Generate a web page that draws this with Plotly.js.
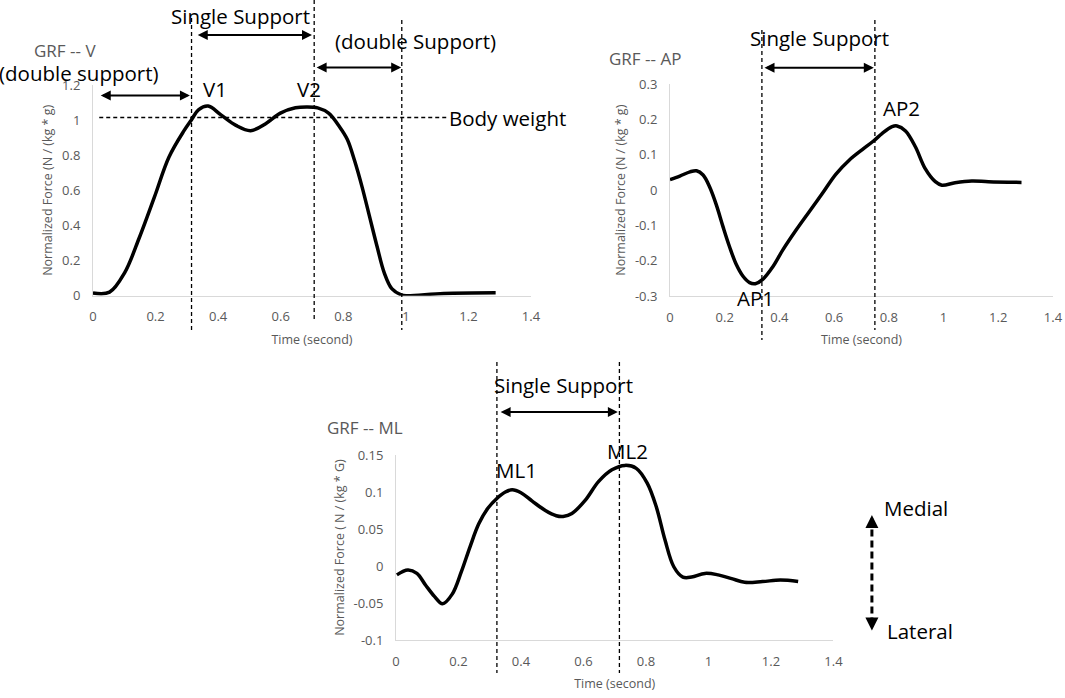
<!DOCTYPE html>
<html>
<head>
<meta charset="utf-8">
<script src="https://cdn.plot.ly/plotly-3.0.1.min.js"></script>
<style>html,body{margin:0;padding:0;background:#fff;}#chart{width:1065px;height:698px;}</style>
</head>
<body>
<div id="chart"></div>
<script>
// ---------------- DATA ----------------
const vTime  = [0, 0.053, 0.101, 0.148, 0.196, 0.243, 0.291, 0.314, 0.338, 0.368, 0.409, 0.457, 0.504, 0.552, 0.599, 0.647, 0.682, 0.718, 0.753, 0.789, 0.813, 0.836, 0.860, 0.884, 0.908, 0.931, 0.955, 0.985, 1.002, 1.121, 1.287];
const vForce = [0.015, 0.02, 0.13, 0.33, 0.56, 0.79, 0.94, 1.00, 1.06, 1.08, 1.03, 0.97, 0.94, 0.98, 1.04, 1.07, 1.075, 1.07, 1.04, 0.96, 0.89, 0.77, 0.62, 0.45, 0.28, 0.13, 0.04, 0.005, 0.0, 0.013, 0.017];

const apTime  = [0, 0.036, 0.073, 0.097, 0.121, 0.145, 0.170, 0.194, 0.218, 0.242, 0.267, 0.291, 0.312, 0.339, 0.376, 0.412, 0.461, 0.509, 0.558, 0.606, 0.655, 0.703, 0.745, 0.776, 0.812, 0.830, 0.861, 0.897, 0.933, 0.970, 0.994, 1.042, 1.103, 1.164, 1.285];
const apForce = [0.030, 0.040, 0.052, 0.055, 0.043, 0.009, -0.043, -0.104, -0.161, -0.210, -0.244, -0.262, -0.265, -0.253, -0.217, -0.170, -0.113, -0.061, -0.008, 0.045, 0.085, 0.115, 0.140, 0.161, 0.180, 0.182, 0.168, 0.123, 0.061, 0.024, 0.014, 0.021, 0.026, 0.024, 0.022];

const mlTime  = [0.003, 0.038, 0.067, 0.095, 0.123, 0.149, 0.180, 0.209, 0.237, 0.265, 0.294, 0.322, 0.350, 0.372, 0.400, 0.435, 0.478, 0.513, 0.535, 0.563, 0.606, 0.648, 0.691, 0.733, 0.769, 0.804, 0.833, 0.861, 0.889, 0.918, 0.946, 0.989, 1.031, 1.074, 1.116, 1.173, 1.230, 1.287];
const mlForce = [-0.012, -0.0055, -0.010, -0.026, -0.041, -0.051, -0.038, -0.008, 0.026, 0.057, 0.078, 0.091, 0.100, 0.103, 0.099, 0.088, 0.075, 0.068, 0.067, 0.071, 0.089, 0.114, 0.130, 0.136, 0.132, 0.112, 0.080, 0.035, -0.001, -0.015, -0.015, -0.010, -0.012, -0.017, -0.022, -0.021, -0.019, -0.021];

// phase boundaries (seconds)
const vPhase  = [0.315, 0.707, 0.987];
const apPhase = [0.336, 0.749];
const mlPhase = [0.323, 0.715];
const bodyWeight = 1.015;

// tick labels
const xTickVals = [0, 0.2, 0.4, 0.6, 0.8, 1, 1.2, 1.4];
const xTickText = ['0', '0.2', '0.4', '0.6', '0.8', '1', '1.2', '1.4'];
const vTickVals = [0, 0.2, 0.4, 0.6, 0.8, 1, 1.2];
const vTickText = ['0', '0.2', '0.4', '0.6', '0.8', '1', '1.2'];
const apTickVals = [-0.3, -0.2, -0.1, 0, 0.1, 0.2, 0.3];
const apTickText = ['-0.3', '-0.2', '-0.1', '0', '0.1', '0.2', '0.3'];
const mlTickVals = [-0.1, -0.05, 0, 0.05, 0.1, 0.15];
const mlTickText = ['-0.1', '-0.05', '0', '0.05', '0.1', '0.15'];

// ---------------- LAYOUT GEOMETRY ----------------
const D1 = {x: [0.0873, 0.4986], y: [0.5764, 0.8782], xr: [0, 1.4], yr: [0, 1.2]};
const D2 = {x: [0.6291, 0.9887], y: [0.5759, 0.8792], xr: [0, 1.4], yr: [-0.3, 0.3]};
const D3 = {x: [0.3718, 0.7826], y: [0.0831, 0.3481], xr: [0, 1.4], yr: [-0.1, 0.15]};
function px(D, t) { return D.x[0] + (t - D.xr[0]) / (D.xr[1] - D.xr[0]) * (D.x[1] - D.x[0]); }
function py(D, v) { return D.y[0] + (v - D.yr[0]) / (D.yr[1] - D.yr[0]) * (D.y[1] - D.y[0]); }

const FONT = '"Open Sans", "Liberation Sans", sans-serif';
const GREY = '#595959';
const AXL = '#d9d9d9';

function xAxis(D, anchor) {
  return {domain: D.x, range: D.xr, anchor: anchor, tickmode: 'array', tickvals: xTickVals, ticktext: xTickText,
    showgrid: false, zeroline: false, showline: true, linecolor: AXL, linewidth: 1, ticks: '',
    ticklabelstandoff: 9, tickfont: {family: FONT, size: 13, color: GREY},
    title: {text: 'Time (second)', font: {family: FONT, size: 12.5, color: GREY}, standoff: 10}, fixedrange: true};
}
function yAxis(D, anchor, vals, text, title) {
  return {domain: D.y, range: D.yr, anchor: anchor, tickmode: 'array', tickvals: vals, ticktext: text,
    showgrid: false, zeroline: false, showline: true, linecolor: AXL, linewidth: 1, ticks: '',
    ticklabelstandoff: 9, tickfont: {family: FONT, size: 13, color: GREY},
    title: {text: title, font: {family: FONT, size: 12.5, color: GREY}, standoff: 6}, fixedrange: true};
}

const curve = {mode: 'lines', line: {color: '#000', width: 3.5, shape: 'spline', smoothing: 1}, hoverinfo: 'skip'};
const traces = [
  Object.assign({x: vTime, y: vForce, xaxis: 'x', yaxis: 'y'}, curve),
  Object.assign({x: apTime, y: apForce, xaxis: 'x2', yaxis: 'y2'}, curve),
  Object.assign({x: mlTime, y: mlForce, xaxis: 'x3', yaxis: 'y3'}, curve)
];

const dash = {color: '#000', width: 1.3, dash: '4px,3px'};
function vline(xref, t, y0px, y1px) {
  return {type: 'line', xref: xref, yref: 'paper', x0: t, x1: t, y0: 1 - y0px / 698, y1: 1 - y1px / 698, line: dash};
}
const shapes = [
  vline('x', vPhase[0], 18, 330), vline('x', vPhase[1], 0, 320), vline('x', vPhase[2], 20, 330),
  vline('x2', apPhase[0], 30, 340), vline('x2', apPhase[1], 20, 330),
  vline('x3', mlPhase[0], 362, 673), vline('x3', mlPhase[1], 362, 673),
  {type: 'line', xref: 'x', yref: 'y', x0: 0.02, x1: 1.13, y0: bodyWeight, y1: bodyWeight, line: dash},
  {type: 'line', xref: 'paper', yref: 'paper', x0: px(D3, 1.523), x1: px(D3, 1.523), y0: py(D3, -0.079), y1: py(D3, 0.062),
   line: {color: '#000', width: 3, dash: '7px,4px'}}
];

function txt(text, x, y, opts) {
  return Object.assign({text: text, x: x, y: y, xref: 'paper', yref: 'paper', showarrow: false,
    xanchor: 'center', yanchor: 'middle', font: {family: FONT, size: 20.5, color: '#000'}}, opts || {});
}
function grey(text, x, y) {
  return txt(text, x, y, {font: {family: FONT, size: 17, color: GREY}});
}
function dbl(xref, t0, t1, yPaper) {
  return {xref: xref, axref: xref, x: t1, ax: t0, yref: 'paper', ayref: 'pixel', y: yPaper, ay: 0, text: '',
    showarrow: true, arrowside: 'end+start', arrowhead: 2, startarrowhead: 2, arrowsize: 1, startarrowsize: 1,
    arrowwidth: 2, arrowcolor: '#000', standoff: 0, startstandoff: 0};
}
function tip(x, y, ay) {
  return {xref: 'paper', yref: 'paper', x: x, y: y, ax: 0, ay: ay, text: '', showarrow: true,
    arrowhead: 2, arrowsize: 1, arrowwidth: 2.6, arrowcolor: '#000', standoff: 0};
}

const annotations = [
  // V plot
  txt('Single Support', px(D1, 0.47), 1, {yanchor: 'top'}),
  dbl('x', 0.33, 0.70, py(D1, 1.485)),
  txt('(double Support)', px(D1, 1.03), py(D1, 1.45)),
  dbl('x', 0.71, 0.985, py(D1, 1.30)),
  txt('(double support)', px(D1, -0.045), py(D1, 1.27)),
  grey('GRF -- V', px(D1, -0.09), py(D1, 1.395)),
  dbl('x', 0.02, 0.31, py(D1, 1.14)),
  txt('V1', px(D1, 0.39), py(D1, 1.18)),
  txt('V2', px(D1, 0.69), py(D1, 1.18)),
  txt('Body weight', px(D1, 1.13), py(D1, 1.01), {xanchor: 'left'}),
  // AP plot
  txt('Single Support', px(D2, 0.548), py(D2, 0.43)),
  dbl('x2', 0.34, 0.745, py(D2, 0.347)),
  grey('GRF -- AP', px(D2, -0.091), py(D2, 0.373)),
  txt('AP2', px(D2, 0.847), py(D2, 0.233)),
  txt('AP1', px(D2, 0.311), py(D2, -0.305)),
  // ML plot
  txt('Single Support', px(D3, 0.535), py(D3, 0.245)),
  dbl('x3', 0.33, 0.71, py(D3, 0.208)),
  grey('GRF -- ML', px(D3, -0.10), py(D3, 0.187)),
  txt('ML1', px(D3, 0.386), py(D3, 0.13)),
  txt('ML2', px(D3, 0.74), py(D3, 0.155)),
  tip(px(D3, 1.523), py(D3, 0.069), 9),
  tip(px(D3, 1.523), py(D3, -0.087), -9),
  txt('Medial', px(D3, 1.556), py(D3, 0.078), {xanchor: 'left'}),
  txt('Lateral', px(D3, 1.565), py(D3, -0.088), {xanchor: 'left'})
];

const layout = {
  width: 1065, height: 698, margin: {l: 0, r: 0, t: 0, b: 0},
  paper_bgcolor: '#fff', plot_bgcolor: '#fff', showlegend: false,
  font: {family: FONT, color: GREY},
  xaxis: xAxis(D1, 'y'),
  yaxis: yAxis(D1, 'x', vTickVals, vTickText, 'Normalized Force (N / (kg * g)'),
  xaxis2: xAxis(D2, 'y2'),
  yaxis2: yAxis(D2, 'x2', apTickVals, apTickText, 'Normalized Force (N / (kg * g)'),
  xaxis3: xAxis(D3, 'y3'),
  yaxis3: yAxis(D3, 'x3', mlTickVals, mlTickText, 'Normalized Force ( N / (kg * G)'),
  shapes: shapes,
  annotations: annotations
};

Plotly.newPlot('chart', traces, layout, {displayModeBar: false, staticPlot: true});
</script>
</body>
</html>
